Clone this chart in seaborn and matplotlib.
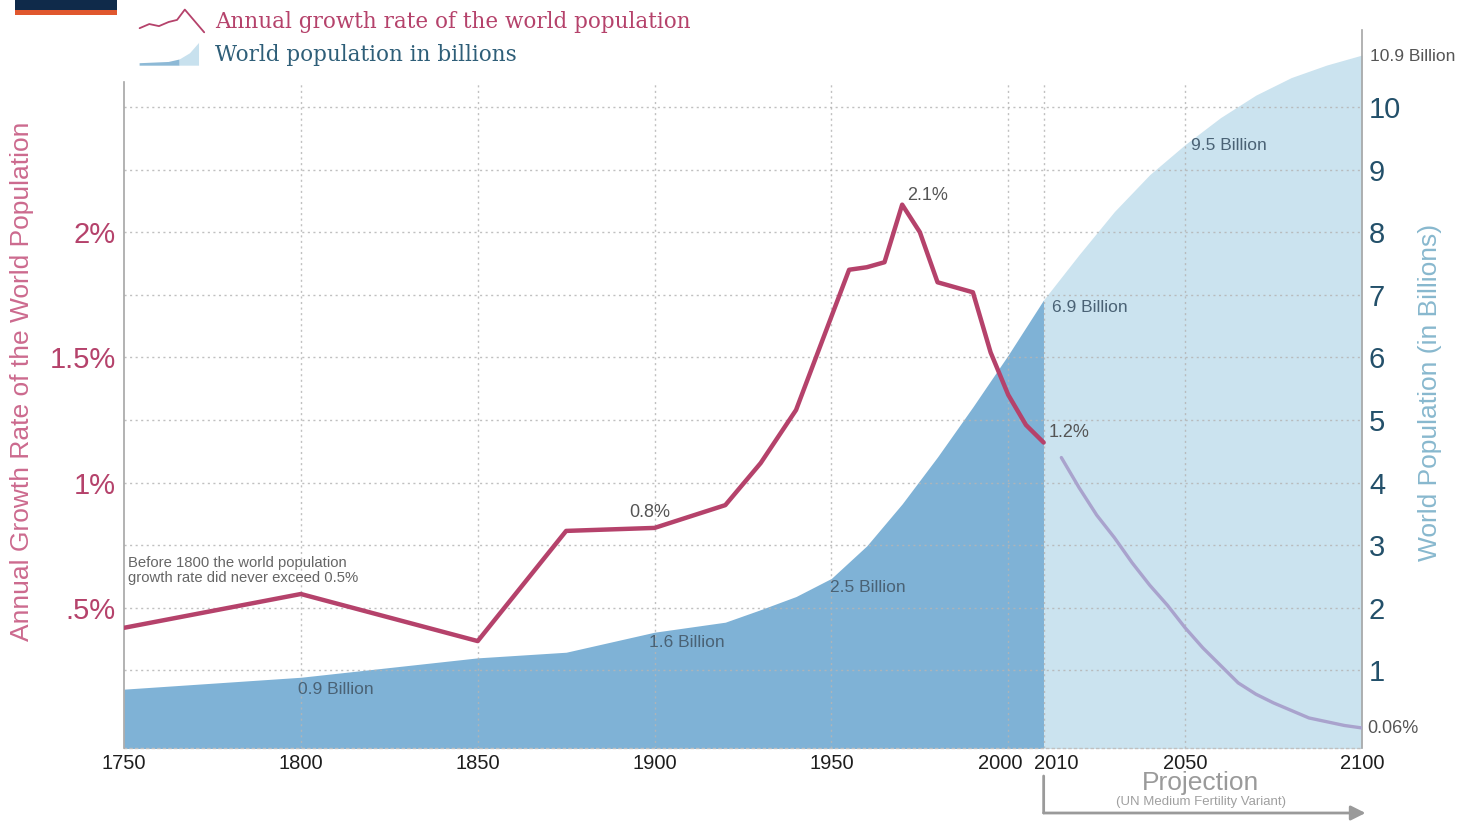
import numpy as np
import pandas as pd
import matplotlib
matplotlib.use("Agg")
import matplotlib.pyplot as plt
import seaborn as sns
from matplotlib.lines import Line2D
from matplotlib.patches import Patch, Rectangle, Polygon
from matplotlib.legend_handler import HandlerBase
import matplotlib.transforms as mtransforms

# ---------------- data ----------------
growth_years = [1750, 1800, 1850, 1875, 1900, 1920, 1930, 1940, 1955, 1960, 1965,
                1970, 1975, 1980, 1985, 1990, 1995, 2000, 2005, 2010]
growth_rate = [0.42, 0.555, 0.367, 0.807, 0.819, 0.91, 1.078, 1.29, 1.85, 1.86, 1.88,
               2.11, 2.0, 1.80, 1.78, 1.76, 1.52, 1.35, 1.23, 1.16]

proj_years = [2015, 2020, 2025, 2030, 2035, 2040, 2045, 2050, 2055, 2060, 2065,
              2070, 2075, 2080, 2085, 2090, 2095, 2100]
proj_rate = [1.10, 0.98, 0.87, 0.78, 0.68, 0.59, 0.51, 0.42, 0.34, 0.27, 0.20,
             0.155, 0.12, 0.09, 0.06, 0.045, 0.03, 0.02]

pop_years = [1750, 1800, 1850, 1875, 1900, 1920, 1930, 1940, 1950, 1960, 1970,
             1980, 1990, 2000, 2010]
pop_values = [0.70, 0.89, 1.20, 1.29, 1.61, 1.77, 1.97, 2.18, 2.47, 2.99, 3.66,
              4.41, 5.21, 6.04, 6.92]

proj_pop_years = [2010, 2020, 2030, 2040, 2050, 2060, 2070, 2080, 2090, 2100]
proj_pop = [6.92, 7.64, 8.33, 8.92, 9.40, 9.83, 10.19, 10.47, 10.67, 10.83]

x_ticks = [1750, 1800, 1850, 1900, 1950, 2000, 2010, 2050, 2100]
grid_years = [1800, 1850, 1900, 1950, 2000, 2010, 2050]
pop_ticks = [1, 2, 3, 4, 5, 6, 7, 8, 9, 10]
rate_ticks = [0.5, 1.0, 1.5, 2.0]
rate_tick_labels = [".5%", "1%", "1.5%", "2%"]

# ---------------- style ----------------
sns.set_theme(style="white")
plt.rcParams['font.family'] = ['Liberation Sans', 'DejaVu Sans']

RED = '#B5426B'
RED_LABEL = '#CC6A8E'
PROJ_LINE = '#A9A3CD'
DARK_AREA = '#7FB2D6'
LIGHT_AREA = '#CBE3EF'
TEAL_TICK = '#23506A'
TEAL_LABEL = '#88B8CE'
GRID = '#b5b5b5'
NOTE = '#4a6275'

W, H = 1463, 822
fig = plt.figure(figsize=(W / 100, H / 100), dpi=100)
fig.patch.set_facecolor('white')

ax = fig.add_axes([124 / W, 1 - 748 / H, (1362 - 124) / W, (748 - 30) / H])
ax2 = ax.twinx()

POP_LO, POP_HI = -0.24, 11.23
ax.set_ylim(POP_LO, POP_HI)
ax2.set_ylim(POP_LO / 4, POP_HI / 4)
ax.set_xlim(1750, 2100)

# areas
ax.fill_between(pop_years, pop_values, POP_LO - 1, color=DARK_AREA, lw=0, zorder=1)
ax.fill_between(proj_pop_years, proj_pop, POP_LO - 1, color=LIGHT_AREA, lw=0, zorder=1)

# grid
ax.hlines(pop_ticks, 1750, 2100, colors=GRID, linestyles=(0, (1.5, 2.5)), lw=1, zorder=2, alpha=0.85)
ax.vlines(grid_years, POP_LO, 10.4, colors=GRID, linestyles=(0, (1.5, 2.5)), lw=1, zorder=2, alpha=0.85)

# lines
sns.lineplot(x=growth_years, y=growth_rate, ax=ax2, color=RED, lw=3.2, zorder=5)
sns.lineplot(x=proj_years, y=proj_rate, ax=ax2, color=PROJ_LINE, lw=2.4, zorder=5)

# axes cosmetics
for s in ['top', 'left']:
    ax.spines[s].set_visible(False)
ax.spines['right'].set_color('#a5a5a5')
ax.spines['right'].set_linewidth(1.2)
ax.spines['bottom'].set_color('#c0c0c0')
ax.spines['bottom'].set_linestyle((0, (1.5, 2.5)))
ax.spines['bottom'].set_linewidth(1)
for s in ['top', 'right', 'bottom']:
    ax2.spines[s].set_visible(False)
ax2.spines['left'].set_visible(True)
ax2.spines['left'].set_color('#a5a5a5')
ax2.spines['left'].set_linewidth(1.2)
ax2.spines['left'].set_bounds(POP_LO / 4, 10.4 / 4)

ax.yaxis.tick_right()
ax.set_yticks(pop_ticks)
ax.set_yticklabels([str(t) for t in pop_ticks])
ax.tick_params(axis='y', length=0, pad=5, labelsize=21, labelcolor=TEAL_TICK)
ax.set_xticks(x_ticks)
ax.set_xticklabels([str(t) for t in x_ticks])
ax.tick_params(axis='x', length=0, pad=4, labelsize=14.5, labelcolor='#1e1e1e')

ax2.yaxis.tick_left()
ax2.set_yticks(rate_ticks)
ax2.set_yticklabels(rate_tick_labels)
ax2.tick_params(axis='y', length=0, pad=6, labelsize=21, labelcolor=RED)
ax2.set_ylabel('')
ax.set_ylabel('')
ax.set_xlabel('')

for tick in ax.xaxis.get_major_ticks():
    lab = tick.label1
    if lab.get_text() == '2000':
        lab.set_transform(lab.get_transform() + mtransforms.ScaledTranslation(-8 / 100, 0, fig.dpi_scale_trans))
    if lab.get_text() == '2010':
        lab.set_transform(lab.get_transform() + mtransforms.ScaledTranslation(13 / 100, 0, fig.dpi_scale_trans))

# axis titles
fig.text(22 / W, 1 - 381 / H, 'Annual Growth Rate of the World Population', rotation=90,
         ha='center', va='center', fontsize=19, color=RED_LABEL)
fig.text(1430 / W, 1 - 392 / H, 'World Population (in Billions)', rotation=90,
         ha='center', va='center', fontsize=19, color=TEAL_LABEL)

# annotations
ax2.text(1751, 0.65, 'Before 1800 the world population\ngrowth rate did never exceed 0.5%',
         fontsize=10.7, color='#666666', ha='left', va='center', linespacing=1.1, zorder=6)
ax.text(1810, 0.70, '0.9 Billion', fontsize=12.5, color=NOTE, ha='center', va='center', zorder=6)
ax.text(1909, 1.45, '1.6 Billion', fontsize=12.5, color=NOTE, ha='center', va='center', zorder=6)
ax.text(1960.3, 2.33, '2.5 Billion', fontsize=12.5, color=NOTE, ha='center', va='center', zorder=6)
ax.text(2023, 6.79, '6.9 Billion', fontsize=12.5, color=NOTE, ha='center', va='center', zorder=6)
ax.text(2062.4, 9.39, '9.5 Billion', fontsize=12.5, color=NOTE, ha='center', va='center', zorder=6)
ax.text(2102.3, 10.8, '10.9 Billion', fontsize=12.5, color='#555555', ha='left', va='center',
        clip_on=False, zorder=6)
ax2.text(1977.3, 2.145, '2.1%', fontsize=13, color='#555555', ha='center', va='center', zorder=6)
ax2.text(1898.7, 0.879, '0.8%', fontsize=13, color='#555555', ha='center', va='center', zorder=6)
ax2.text(2011.5, 1.20, '1.2%', fontsize=13, color='#555555', ha='left', va='center', zorder=6)
ax2.text(2101.4, 0.016, '0.06%', fontsize=13, color='#555555', ha='left', va='center',
         clip_on=False, zorder=6)

# projection note and arrow
fig.text(1201 / W, 1 - 783 / H, 'Projection', fontsize=19, color='#9a9a9a', ha='center', va='center')
fig.text(1201 / W, 1 - 802 / H, '(UN Medium Fertility Variant)', fontsize=9.5, color='#a0a0a0',
         ha='center', va='center')
ax.annotate('', xy=(2010, H - 813), xytext=(2010, H - 776), xycoords=('data', 'figure pixels'),
            textcoords=('data', 'figure pixels'),
            arrowprops=dict(arrowstyle='-', color='#9a9a9a', lw=2, shrinkA=0, shrinkB=0))
ax.annotate('', xy=(2101, H - 813), xytext=(2010, H - 813), xycoords=('data', 'figure pixels'),
            textcoords=('data', 'figure pixels'),
            arrowprops=dict(arrowstyle='-|>', color='#9a9a9a', lw=2, mutation_scale=22,
                            shrinkA=0, shrinkB=0))


# legend with small sparkline / ramp icons
class SparkHandler(HandlerBase):
    def create_artists(self, legend, orig_handle, xdescent, ydescent, width, height, fontsize, trans):
        fx = np.array([0.0, 0.15, 0.3, 0.45, 0.58, 0.7, 1.0])
        fy = np.array([0.15, 0.35, 0.25, 0.45, 0.55, 1.05, -0.05])
        ln = Line2D(-xdescent + fx * width, -ydescent + fy * height,
                    color=orig_handle.get_color(), lw=1.3, transform=trans)
        return [ln]


class RampHandler(HandlerBase):
    def create_artists(self, legend, orig_handle, xdescent, ydescent, width, height, fontsize, trans):
        x0, y0 = -xdescent, -ydescent - 0.1 * height
        pts_dark = [(0.0, 0.0), (0.0, 0.12), (0.45, 0.18), (0.62, 0.3), (0.62, 0.0)]
        pts_light = [(0.62, 0.0), (0.62, 0.3), (0.78, 0.6), (0.92, 1.1), (0.92, 0.0)]
        p1 = Polygon([(x0 + a * width, y0 + b * height) for a, b in pts_dark],
                     closed=True, facecolor='#8DB9D6', edgecolor='none', transform=trans)
        p2 = Polygon([(x0 + a * width, y0 + b * height) for a, b in pts_light],
                     closed=True, facecolor='#C8E1EE', edgecolor='none', transform=trans)
        return [p1, p2]


handles = [Line2D([0], [0], color=RED, lw=1.5), Patch(facecolor='#A9D0E4', edgecolor='none')]
labels = ['Annual growth rate of the world population', 'World population in billions']
leg = fig.legend(handles, labels, loc='upper left', bbox_to_anchor=(131 / W, 1 - 2 / H),
                 frameon=False, prop=dict(family='DejaVu Serif', size=15.5),
                 handlelength=3.0, handleheight=1.1, handletextpad=0.5, labelspacing=0.45,
                 borderaxespad=0,
                 handler_map={Line2D: SparkHandler(), Patch: RampHandler()})
leg.get_texts()[0].set_color(RED)
leg.get_texts()[1].set_color('#2E5E78')

# logo fragment
fig.patches.append(Rectangle((15 / W, 1 - 10 / H), 102 / W, 10 / H, transform=fig.transFigure,
                             facecolor='#0f2a4a', edgecolor='none'))
fig.patches.append(Rectangle((15 / W, 1 - 15 / H), 102 / W, 5 / H, transform=fig.transFigure,
                             facecolor='#E0572E', edgecolor='none'))

fig.savefig('out.png', dpi=100, facecolor='white')
